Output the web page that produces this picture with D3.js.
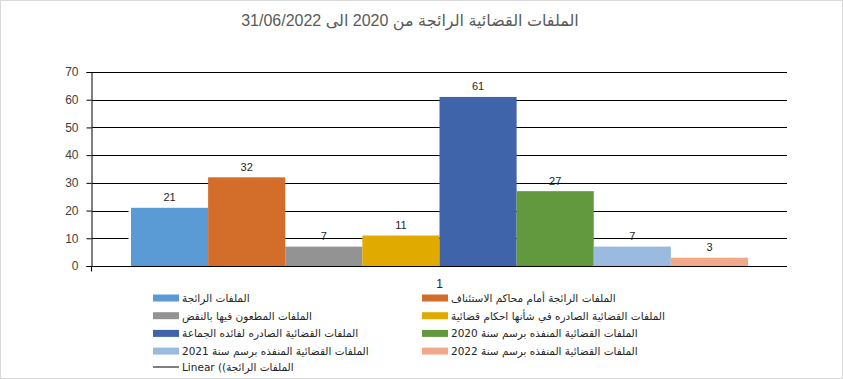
<!DOCTYPE html>
<html>
<head>
<meta charset="utf-8">
<script src="https://cdn.jsdelivr.net/npm/d3@7"></script>
<style>
  body { margin: 0; background: #fff; }
  svg { display: block; font-family: "Liberation Sans", Arial, "DejaVu Sans", sans-serif; }
</style>
</head>
<body>
<svg id="chart" width="843" height="379"></svg>
<script>
// data
const categories = ['1'];
const seriesNames = [
  'الملفات الرائجة',
  'الملفات الرائجة أمام محاكم الاستئناف',
  'الملفات المطعون فيها بالنقض',
  'الملفات القضائية الصادره في شأنها احكام قضائية',
  'الملفات القضائية الصادره لفائده الجماعة',
  'الملفات القضائية  المنفذه برسم سنة 2020',
  'الملفات القضائية المنفذه برسم سنة 2021',
  'الملفات القضائية  المنفذه برسم سنة 2022'
];
const seriesValues = [21, 32, 7, 11, 61, 27, 7, 3];
const colors = ['#5b9bd5', '#d26e2a', '#939393', '#e1aa00', '#3f64aa', '#62993e', '#9abae0', '#f0a98a'];
const yTicks = [0, 10, 20, 30, 40, 50, 60, 70];
const trendLabel = 'Linear ((الملفات الرائجة';
const title = 'الملفات القضائية  الرائجة من 2020 الى 31/06/2022';

const W = 843, H = 379;
const plot = { left: 92, right: 787, top: 72, bottom: 266 };

const svg = d3.select('#chart');

// outer border
svg.append('rect')
  .attr('x', 0.5).attr('y', 0.5)
  .attr('width', W - 1).attr('height', H - 1)
  .attr('fill', '#fff')
  .attr('stroke', '#d9d9d9');

svg.append('text')
  .attr('x', 410).attr('y', 26)
  .attr('text-anchor', 'middle')
  .attr('font-size', 16)
  .attr('fill', '#595959')
  .text(title);

const y = d3.scaleLinear()
  .domain([0, 70])
  .range([plot.bottom, plot.top]);

const x = d3.scaleBand()
  .domain(categories)
  .range([plot.left, plot.right])
  .paddingOuter(0.0632);

const xs = d3.scaleBand()
  .domain(seriesNames)
  .range([0, x.bandwidth()]);

// gridlines
svg.append('g')
  .selectAll('line')
  .data(yTicks.filter(t => t > 0))
  .enter()
  .append('line')
  .attr('x1', plot.left).attr('x2', plot.right)
  .attr('y1', d => Math.round(y(d)) + 0.5)
  .attr('y2', d => Math.round(y(d)) + 0.5)
  .attr('stroke', '#000')
  .attr('stroke-width', 1);

// bars
const bars = svg.append('g');
categories.forEach(function (c) {
  bars.selectAll(null)
    .data(seriesValues)
    .enter()
    .append('rect')
    .attr('x', (d, i) => x(c) + xs(seriesNames[i]))
    .attr('y', d => y(d))
    .attr('width', xs.bandwidth())
    .attr('height', d => y(0) - y(d))
    .attr('fill', (d, i) => colors[i])
    .attr('stroke', (d, i) => i == 0 ? '#fff' : 'none')
    .attr('stroke-width', 5)
    .attr('paint-order', 'stroke');

  bars.selectAll(null)
    .data(seriesValues)
    .enter()
    .append('text')
    .attr('x', (d, i) => x(c) + xs(seriesNames[i]) + xs.bandwidth() / 2)
    .attr('y', d => y(d) - 6.5)
    .attr('text-anchor', 'middle')
    .attr('font-size', 11)
    .attr('fill', '#262626')
    .text(d => d);
});

// y axis
const yAxis = svg.append('g')
  .attr('transform', `translate(${plot.left - 0.5},0)`)
  .call(d3.axisLeft(y).tickValues(yTicks).tickSize(5).tickPadding(8));
yAxis.select('.domain').attr('stroke', '#000');
yAxis.selectAll('.tick line').attr('stroke', '#000');
yAxis.selectAll('.tick text')
  .attr('font-size', 12)
  .attr('font-family', '"Liberation Sans", Arial, sans-serif')
  .attr('fill', '#404040');

// x axis
const xAxis = svg.append('g')
  .attr('transform', `translate(0,${Math.round(y(0)) + 0.5})`)
  .call(d3.axisBottom(x).tickSize(0).tickPadding(13));
xAxis.select('.domain').attr('stroke', '#000').attr('d', `M${plot.left - 5},0H${plot.right}`);
xAxis.selectAll('.tick text')
  .attr('font-size', 12)
  .attr('fill', '#262626');
xAxis.append('line')
  .attr('x1', plot.left - 0.5).attr('x2', plot.left - 0.5)
  .attr('y1', 0).attr('y2', 5)
  .attr('stroke', '#000');

// legend
const legendCols = [153, 422];
const legendRows = [298, 315.7, 333.4, 351.1, 368.5];
const legend = svg.append('g')
  .attr('font-size', 10.5)
  .attr('font-family', '"DejaVu Sans", "Liberation Sans", sans-serif');

seriesNames.forEach(function (name, i) {
  const lx = legendCols[i % 2];
  const ly = legendRows[Math.floor(i / 2)];
  legend.append('rect')
    .attr('x', lx).attr('y', ly - 3.5)
    .attr('width', 26).attr('height', 7)
    .attr('fill', colors[i]);
  legend.append('text')
    .attr('x', lx + 29).attr('y', ly + 4)
    .attr('fill', '#262626')
    .text(name);
});

const ty = legendRows[4];
legend.append('line')
  .attr('x1', legendCols[0]).attr('x2', legendCols[0] + 26)
  .attr('y1', ty - 1.5).attr('y2', ty - 1.5)
  .attr('stroke', '#000');
legend.append('text')
  .attr('x', legendCols[0] + 29).attr('y', ty + 2.5)
  .attr('fill', '#262626')
  .text(trendLabel);
</script>
</body>
</html>
